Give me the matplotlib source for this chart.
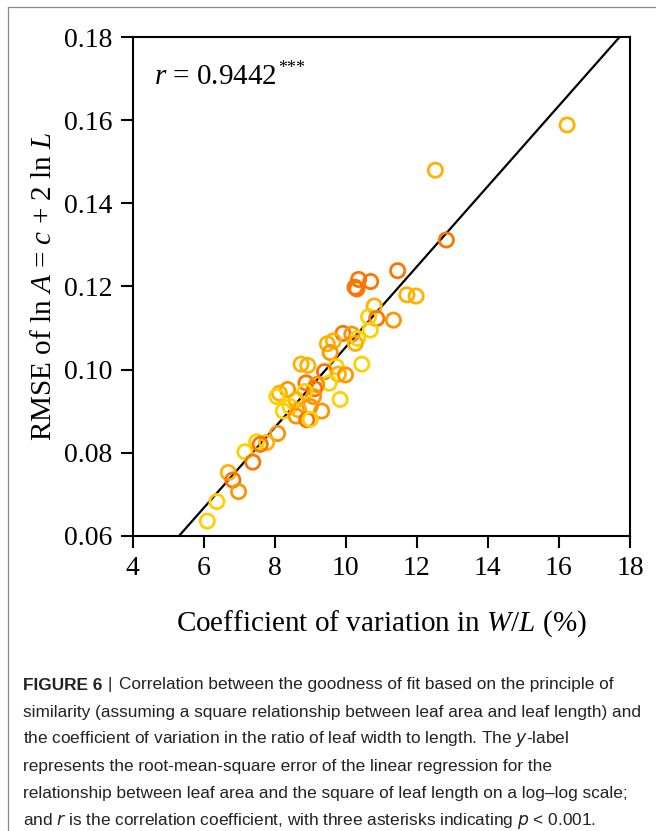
import matplotlib
matplotlib.use('Agg')
import matplotlib.pyplot as plt
from matplotlib.lines import Line2D
import numpy as np

plt.rcParams['font.family'] = 'Liberation Serif'
plt.rcParams['mathtext.fontset'] = 'custom'
plt.rcParams['mathtext.rm'] = 'Liberation Serif'
plt.rcParams['mathtext.it'] = 'Liberation Serif:italic'

# Datos: CV de W/L (%) y RMSE
cv_wl = [16.23, 12.52, 12.83, 11.46, 10.36, 10.70, 10.26, 10.31, 11.72, 11.98,
         10.80, 10.64, 10.87, 11.34, 10.69, 9.92, 10.17, 10.33, 10.27, 9.65,
         9.48, 9.56, 10.45, 8.74, 8.93, 9.73, 9.40, 9.79, 9.99, 9.53,
         8.88, 9.18, 9.12, 8.36, 8.13, 8.06, 9.09, 8.85, 9.84, 8.60,
         8.43, 8.24, 9.00, 8.67, 8.60, 9.32, 8.90, 9.00, 8.08, 7.77,
         7.49, 7.59, 7.16, 7.38, 6.69, 6.82, 6.98, 6.37, 6.10]
rmse = [0.1589, 0.1480, 0.1312, 0.1238, 0.1217, 0.1212, 0.1198, 0.1194, 0.1180, 0.1177,
        0.1153, 0.1127, 0.1123, 0.1119, 0.1095, 0.1087, 0.1085, 0.1075, 0.1063, 0.1069,
        0.1062, 0.1041, 0.1013, 0.1013, 0.1010, 0.1007, 0.0995, 0.0989, 0.0987, 0.0967,
        0.0968, 0.0964, 0.0954, 0.0952, 0.0943, 0.0935, 0.0935, 0.0947, 0.0928, 0.0927,
        0.0911, 0.0900, 0.0911, 0.0903, 0.0888, 0.0900, 0.0879, 0.0880, 0.0846, 0.0824,
        0.0826, 0.0820, 0.0802, 0.0777, 0.0752, 0.0734, 0.0706, 0.0682, 0.0635]
grupo = ['A', 'A', 'D', 'D', 'D', 'D', 'D', 'D', 'A', 'A',
         'A', 'Y', 'D', 'O', 'Y', 'D', 'O', 'Y', 'A', 'A',
         'A', 'O', 'Y', 'A', 'A', 'Y', 'D', 'A', 'O', 'Y',
         'D', 'O', 'D', 'O', 'A', 'Y', 'O', 'Y', 'Y', 'A',
         'Y', 'Y', 'O', 'A', 'O', 'O', 'D', 'Y', 'O', 'A',
         'Y', 'D', 'Y', 'D', 'A', 'D', 'O', 'Y', 'Y']
colores = {'Y': '#FFD000', 'A': '#FFB000', 'O': '#FF9400', 'D': '#FF7400'}

# Recta de regresion
pendiente = 0.009685
intercepto = 0.00857
r_valor = 0.9442

x_ticks = [4, 6, 8, 10, 12, 14, 16, 18]
y_ticks = [0.06, 0.08, 0.10, 0.12, 0.14, 0.16, 0.18]

fig = plt.figure(figsize=(6.56, 8.31), dpi=100)
ax = fig.add_axes([0.2023, 0.3554, 0.7580, 0.5997])

xl = np.array([4, 18])
ax.plot(xl, pendiente * xl + intercepto, color='black', lw=1.6, zorder=1)
ax.scatter(cv_wl, rmse, s=105, facecolors='none',
           edgecolors=[colores[g] for g in grupo], linewidths=2.0, zorder=2)

ax.set_xlim(4, 18)
ax.set_ylim(0.06, 0.18)
ax.set_xticks(x_ticks)
ax.set_yticks(y_ticks)
ax.set_yticklabels([f'{v:.2f}' for v in y_ticks])
for s in ax.spines.values():
    s.set_linewidth(1.5)
ax.tick_params(direction='out', length=8.5, width=1.5, labelsize=20, pad=6)

ax.set_xlabel(r'Coefficient of variation in $W/L$ (%)', fontsize=21, labelpad=20)
ax.set_ylabel(r'RMSE of ln $A$ = $c$ + 2 ln $L$', fontsize=21, labelpad=5)

renderer = fig.canvas.get_renderer()
rt = ax.text(0.042, 0.92, r'$r$ = ' + f'{r_valor}', transform=ax.transAxes,
             fontsize=21, va='center', ha='left')
rb = rt.get_window_extent(renderer)
fig.text(rb.x1 / 656 + 0.002, (rb.y1 - 4) / 831, '***', fontsize=13, va='center', ha='left')

# Marco gris
fig.add_artist(Line2D([8 / 656, 1], [1 - 7 / 831, 1 - 7 / 831], color='#8a8a8a', lw=0.9))
fig.add_artist(Line2D([8 / 656, 8 / 656], [0, 1 - 7 / 831], color='#8a8a8a', lw=0.9))

# Leyenda de la figura
lineas = [
    'similarity (assuming a square relationship between leaf area and leaf length) and',
    'the coefficient of variation in the ratio of leaf width to length. The $y$-label',
    'represents the root-mean-square error of the linear regression for the',
    'relationship between leaf area and the square of leaf length on a log\u2013log scale;',
    'and $r$ is the correlation coefficient, with three asterisks indicating $p$ < 0.001.',
]
cap_font = dict(family='Liberation Sans', fontsize=12.4, color='#222222',
                math_fontfamily='dejavusans')
x0 = 23 / 656
y0 = 1 - 685 / 831
paso = 27.2 / 831
t = fig.text(x0, y0, 'FIGURE 6', fontweight='bold', va='center', **cap_font)
bb = t.get_window_extent(renderer)
fig.text(bb.x1 / 656 + 0.008, y0, '|', va='center', **cap_font)
fig.text(bb.x1 / 656 + 0.026, y0, 'Correlation between the goodness of fit based on the principle of',
         va='center', **cap_font)
for i, txt in enumerate(lineas):
    fig.text(x0, y0 - (i + 1) * paso, txt, va='center', **cap_font)

fig.savefig('out.png', dpi=100)
